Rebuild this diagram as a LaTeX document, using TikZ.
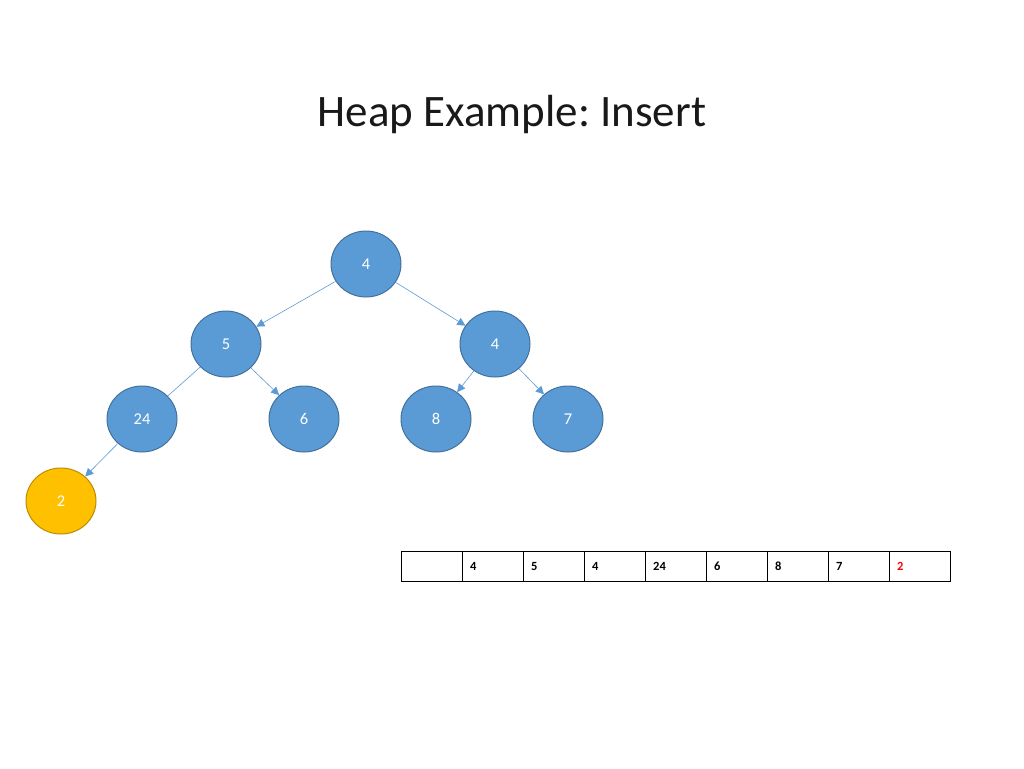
\documentclass[tikz,border=0pt]{standalone}
\usepackage{fontspec}
\setmainfont{Carlito}
\usetikzlibrary{arrows.meta,calc,shapes.geometric}
\definecolor{nodeblue}{HTML}{5B9BD5}
\definecolor{nodeedge}{HTML}{41719C}
\definecolor{nodeyellow}{HTML}{FFC000}
\definecolor{yellowedge}{HTML}{BC8C00}
\tikzset{
  heapnode/.style={ellipse, minimum width=70pt, minimum height=66pt, inner sep=0pt, fill=nodeblue, draw=nodeedge, line width=1pt, text=white, font=\fontsize{16.5}{18}\selectfont},
  newnode/.style={heapnode, fill=nodeyellow, draw=yellowedge},
  link/.style={draw=nodeblue, line width=0.6pt, -{Triangle[width=8pt,length=8pt]}},
  plainlink/.style={draw=nodeblue, line width=0.6pt},
  cell/.style={draw=black, line width=1pt, minimum width=61pt, minimum height=30pt, inner sep=0pt, anchor=north west},
  celltext/.style={anchor=west, inner sep=0pt, font=\fontsize{12.5}{14}\selectfont\bfseries}
}
\begin{document}
\frenchspacing
\begin{tikzpicture}[x=1pt,y=-1pt]
\useasboundingbox[fill=white] (0,0) rectangle (1024,768);
\node[font=\fontsize{45}{54}\selectfont, text=black!90] (title) at (512,115) {Heap Example: Insert};
\node[heapnode] (r) at (366,264) {4};
\node[heapnode] (a) at (226,344) {5};
\node[heapnode] (b) at (495,344) {4};
\node[heapnode] (c) at (142,419) {24};
\node[heapnode] (d) at (304,419) {6};
\node[heapnode] (e) at (436,419) {8};
\node[heapnode] (f) at (568,419) {7};
\node[newnode] (g) at (61,501) {2};
\draw[link] (r) -- (a);
\draw[link] (r) -- (b);
\draw[plainlink] (a) -- (c);
\draw[link] (a) -- (d);
\draw[link] (b) -- (e);
\draw[link] (b) -- (f);
\draw[link] (c) -- (g);
\foreach \i/\v/\c in {0//black,1/4/black,2/5/black,3/4/black,4/24/black,5/6/black,6/8/black,7/7/black,8/2/red}{
  \node[cell] (cell\i) at ({401+61*\i},551) {};
  \node[celltext, text=\c] (val\i) at ($(cell\i.west)+(8,0)$) {\v};
}
\end{tikzpicture}
\end{document}
